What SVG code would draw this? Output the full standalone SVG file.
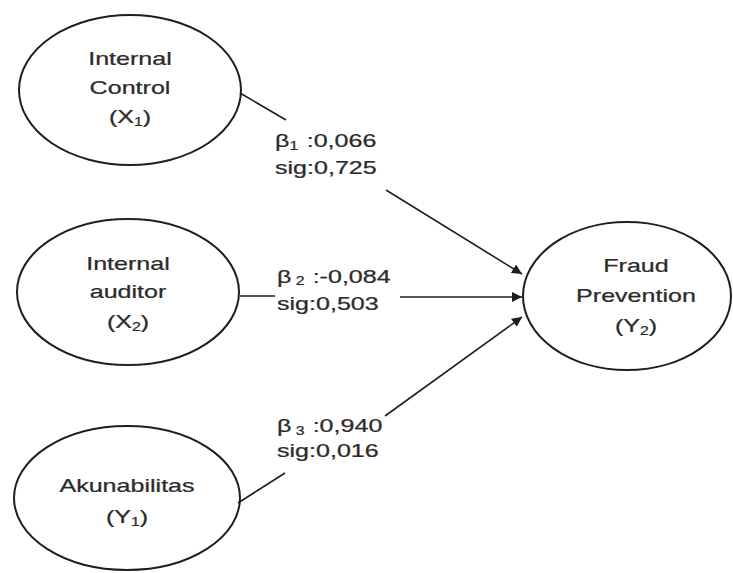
<svg xmlns="http://www.w3.org/2000/svg" width="733" height="573" viewBox="0 0 733 573">
  <style>
    .node { fill: #ffffff; stroke: #1e1e1e; stroke-width: 2; }
    .lbl { font-family: "Liberation Sans", Arial, sans-serif; font-size: 19px; fill: #2b2b2b; stroke: #2b2b2b; stroke-width: 0.25; }
    .mid { text-anchor: middle; }
    .sub { font-size: 12px; }
    .edge { stroke: #1e1e1e; stroke-width: 1.6; fill: none; }
  </style>
  <defs>
    <marker id="arrow" viewBox="0 0 10 10" refX="10" refY="5" markerWidth="10" markerHeight="10" markerUnits="userSpaceOnUse" orient="auto">
      <path d="M0,0 L10,5 L0,10 z" fill="#1e1e1e"/>
    </marker>
  </defs>
  <rect width="733" height="573" fill="#ffffff"/>

  <g id="internal-control">
    <ellipse class="node" cx="130" cy="90" rx="111" ry="75"/>
    <text class="lbl mid" transform="translate(130,65) scale(1.32,1)">Internal</text>
    <text class="lbl mid" transform="translate(130,94) scale(1.32,1)">Control</text>
    <text class="lbl mid" transform="translate(130,123) scale(1.32,1)">(X<tspan class="sub" dy="3">1</tspan><tspan dy="-3">)</tspan></text>
  </g>

  <g id="internal-auditor">
    <ellipse class="node" cx="128" cy="292" rx="111" ry="73"/>
    <text class="lbl mid" transform="translate(128,270) scale(1.32,1)">Internal</text>
    <text class="lbl mid" transform="translate(128,298) scale(1.32,1)">auditor</text>
    <text class="lbl mid" transform="translate(128,328) scale(1.32,1)">(X<tspan class="sub" dy="3">2</tspan><tspan dy="-3">)</tspan></text>
  </g>

  <g id="akunabilitas">
    <ellipse class="node" cx="127" cy="498" rx="113" ry="72"/>
    <text class="lbl mid" transform="translate(127,492) scale(1.32,1)">Akunabilitas</text>
    <text class="lbl mid" transform="translate(127,523) scale(1.32,1)">(Y<tspan class="sub" dy="3">1</tspan><tspan dy="-3">)</tspan></text>
  </g>

  <g id="fraud-prevention">
    <ellipse class="node" cx="627" cy="296" rx="104" ry="74"/>
    <text class="lbl mid" transform="translate(636,272) scale(1.32,1)">Fraud</text>
    <text class="lbl mid" transform="translate(636,302) scale(1.32,1)">Prevention</text>
    <text class="lbl mid" transform="translate(636,332) scale(1.32,1)">(Y<tspan class="sub" dy="3">2</tspan><tspan dy="-3">)</tspan></text>
  </g>

  <g id="connectors">
    <line class="edge" x1="240" y1="93" x2="286" y2="120"/>
    <line class="edge" x1="386" y1="190" x2="522" y2="274" marker-end="url(#arrow)"/>
    <line class="edge" x1="240" y1="296" x2="275" y2="296"/>
    <line class="edge" x1="400" y1="297" x2="522" y2="297" marker-end="url(#arrow)"/>
    <line class="edge" x1="238" y1="503" x2="285" y2="473"/>
    <line class="edge" x1="385" y1="416" x2="522" y2="317" marker-end="url(#arrow)"/>

    <text class="lbl" transform="translate(275,147) scale(1.32,1)">β<tspan class="sub" dy="3">1</tspan><tspan dy="-3" x="24">:0,066</tspan></text>
    <text class="lbl" transform="translate(275,174) scale(1.32,1)">sig:0,725</text>
    <text class="lbl" transform="translate(277,283) scale(1.32,1)">β<tspan class="sub" dy="2"> 2</tspan><tspan dy="-2" x="27">:-0,084</tspan></text>
    <text class="lbl" transform="translate(277,310) scale(1.32,1)">sig:0,503</text>
    <text class="lbl" transform="translate(277,432) scale(1.32,1)">β<tspan class="sub" dy="3"> 3</tspan><tspan dy="-3" x="27">:0,940</tspan></text>
    <text class="lbl" transform="translate(277,457) scale(1.32,1)">sig:0,016</text>
  </g>
</svg>
